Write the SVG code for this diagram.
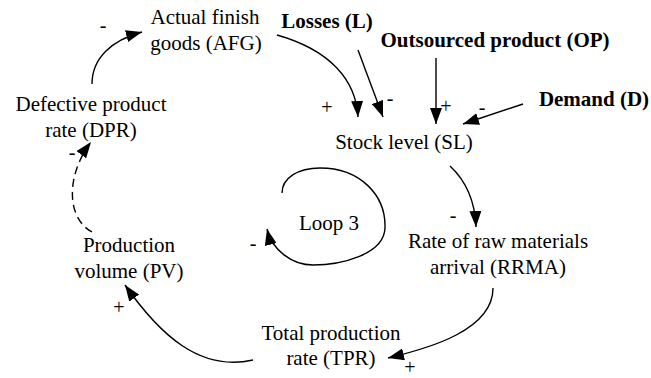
<svg xmlns="http://www.w3.org/2000/svg" width="651" height="378" viewBox="0 0 651 378" font-family="Liberation Serif, Times New Roman, serif">
<style>
text{font-family:'Liberation Serif','Times New Roman',serif;font-size:21px;fill:#000;text-anchor:middle}
.b{font-weight:bold}
.s{font-size:20px}
.c{fill:none;stroke:#000;stroke-width:1.4}
.d{stroke-dasharray:8 5}
</style>
<defs>
<marker id="ah" viewBox="0 0 16 12" refX="16" refY="6" markerWidth="16" markerHeight="12" markerUnits="userSpaceOnUse" orient="auto">
<path d="M0,0 L16,6 L0,12 z" fill="#000"/>
</marker>
</defs>
<rect width="651" height="378" fill="#fff"/>
<g id="AFG"><text x="205" y="24">Actual finish</text><text x="206" y="50">goods (AFG)</text></g>
<g id="DPR"><text x="91" y="111">Defective product</text><text x="91" y="137">rate (DPR)</text></g>
<g id="L"><text class="b" x="327" y="28">Losses (L)</text></g>
<g id="OP"><text class="b" x="495" y="47">Outsourced product (OP)</text></g>
<g id="D"><text class="b" x="594" y="106">Demand (D)</text></g>
<g id="SL"><text x="404" y="149">Stock level (SL)</text></g>
<g id="RRMA"><text x="498" y="248">Rate of raw materials</text><text x="498" y="274">arrival (RRMA)</text></g>
<g id="TPR"><text x="331" y="340">Total production</text><text x="331" y="365">rate (TPR)</text></g>
<g id="PV"><text x="129" y="252">Production</text><text x="129" y="278">volume (PV)</text></g>
<g id="LOOP"><text x="329" y="230">Loop 3</text></g>
<g id="connectors">
<path class="c" marker-end="url(#ah)" d="M92,84 C92,58 112,40 142,32"/>
<path class="c" marker-end="url(#ah)" d="M277,35 C330,50 356,80 358,117"/>
<path class="c" marker-end="url(#ah)" d="M358,50 L383,117"/>
<path class="c" marker-end="url(#ah)" d="M436,58 L436,124"/>
<path class="c" marker-end="url(#ah)" d="M523,104 L463,124"/>
<path class="c" marker-end="url(#ah)" d="M450,166 C465,180 475,200 476,227"/>
<path class="c" marker-end="url(#ah)" d="M493,288 C493,330 430,348 388,358"/>
<path class="c" marker-end="url(#ah)" d="M253,360 C200,372 160,335 125,285"/>
<path class="c d" marker-end="url(#ah)" d="M92,232 C66,218 66,175 91,142"/>
<path class="c" marker-end="url(#ah)" d="M282,193 C282,178 298,168 320,168 C360,168 386,195 385,228 C384,255 340,265 313,265 C292,265 272,250 267,229"/>
</g>
<g id="polarity">
<text class="s" x="103" y="32">-</text>
<text class="s" x="327" y="114">+</text>
<text class="s" x="390" y="105">-</text>
<text class="s" x="446" y="113">+</text>
<text class="s" x="482" y="114">-</text>
<text class="s" x="453" y="222">-</text>
<text class="s" x="410" y="374" font-size="18">+</text>
<text class="s" x="119" y="314">+</text>
<text class="s" x="72" y="159" font-size="19">-</text>
<text class="s" x="253" y="250">-</text>
</g>
</svg>
